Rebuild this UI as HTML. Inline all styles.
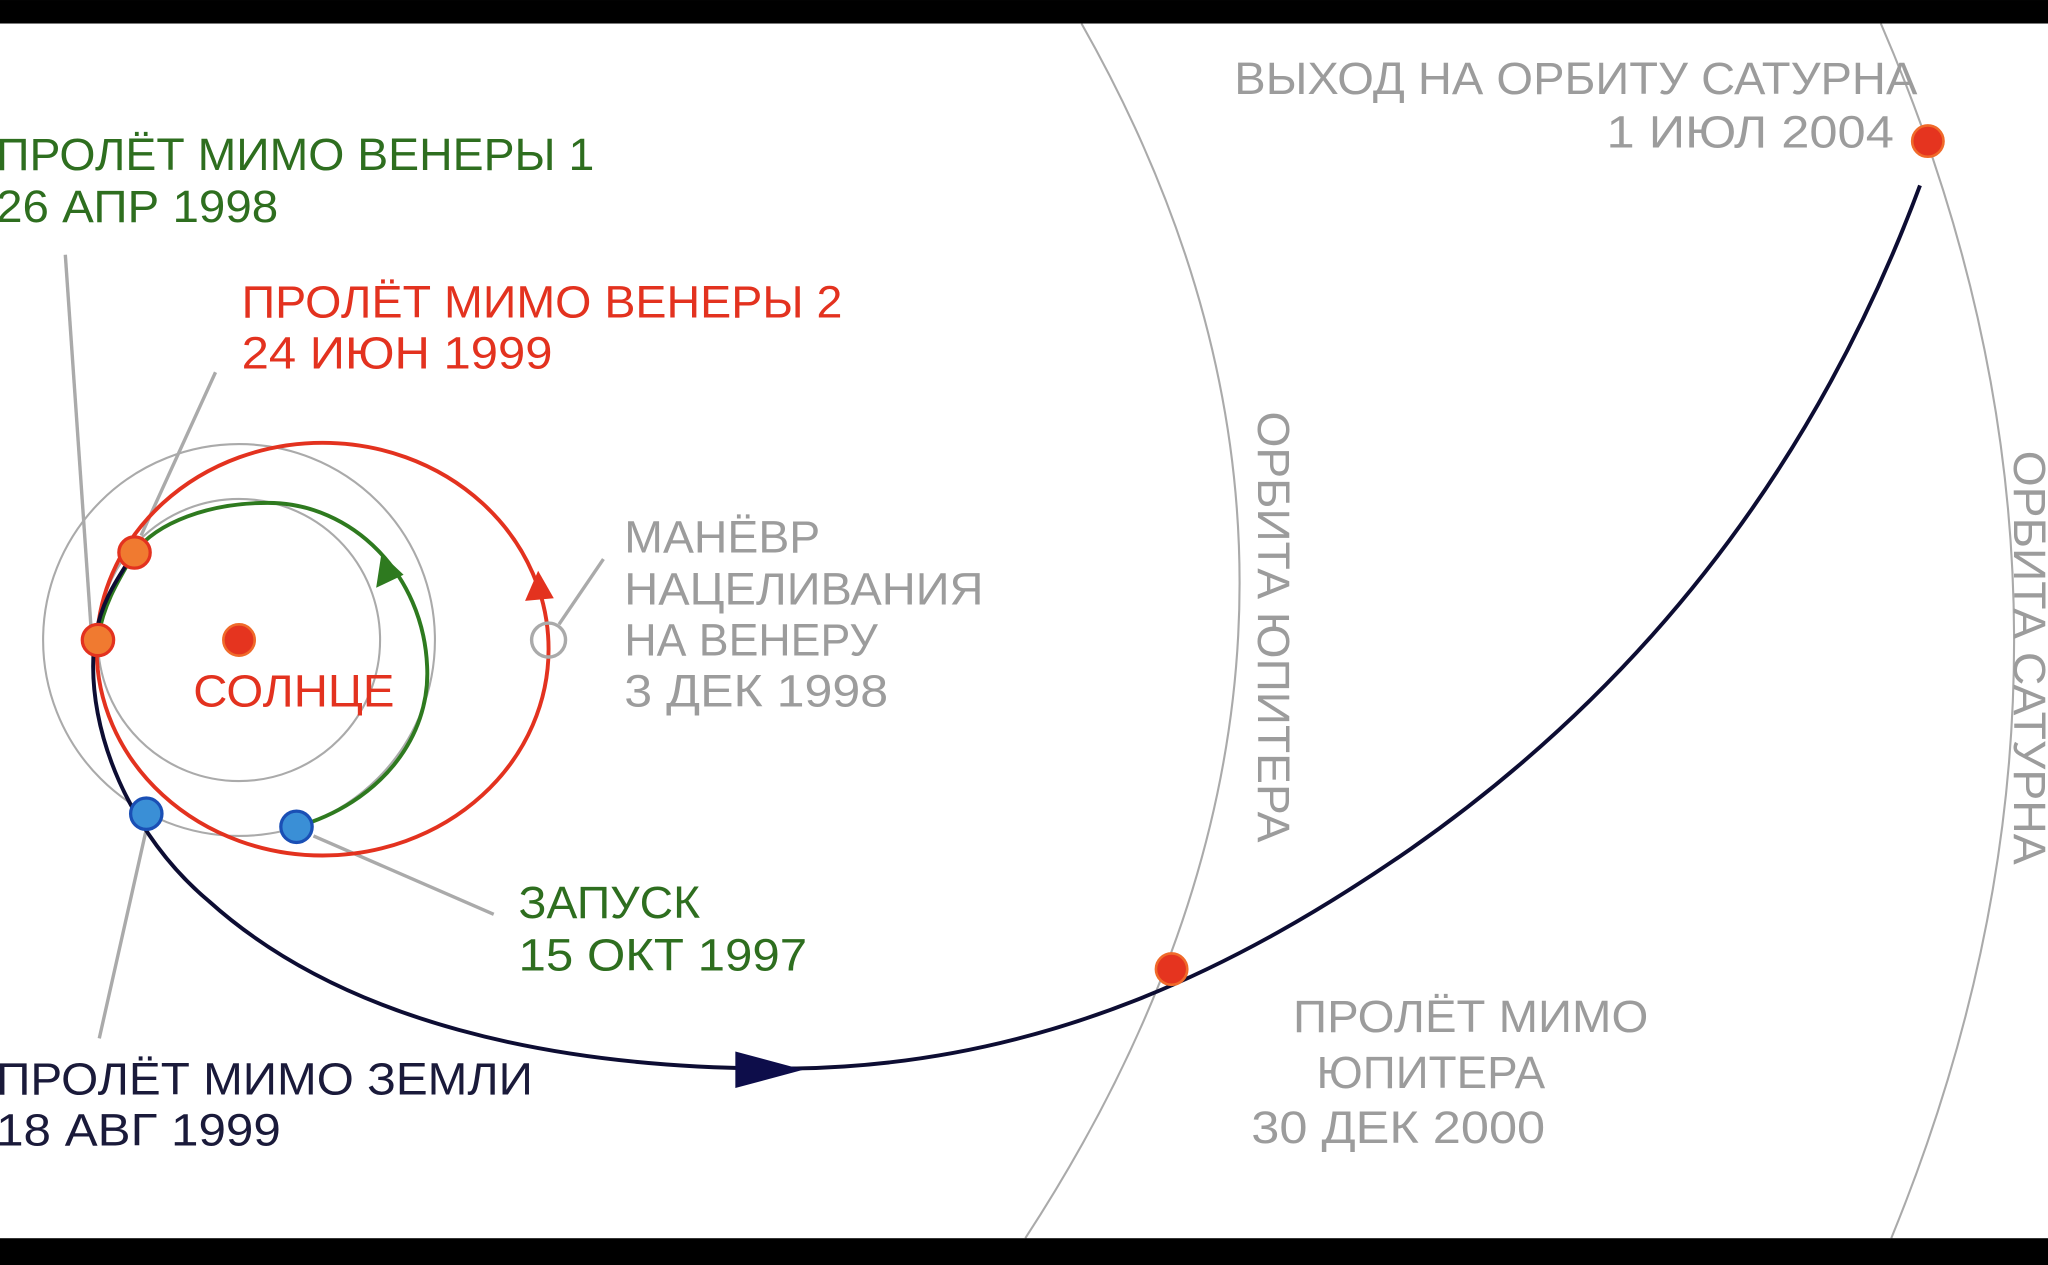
<!DOCTYPE html>
<html><head><meta charset="utf-8"><style>html,body{margin:0;padding:0;background:#fff}svg{display:block}text{font-family:"Liberation Sans",sans-serif;font-size:35px}</style></head>
<body>
<svg width="2048" height="1265" viewBox="0 0 1568 968.5" xmlns="http://www.w3.org/2000/svg">
<rect width="1568" height="968.5" fill="#fff"/>
<g fill="none" stroke="#aaa" stroke-width="1.6">
<circle cx="183" cy="490" r="150"/>
<circle cx="183" cy="490" r="108"/>
<path d="M828,18 Q1090,480 785,948"/>
<path d="M1440,18 Q1640,480 1448,948"/>
</g>
<g stroke="#aaa" stroke-width="2.6" fill="none">
<line x1="50" y1="195" x2="70" y2="485"/>
<line x1="165" y1="285" x2="108" y2="410"/>
<line x1="462" y1="428" x2="428" y2="478"/>
<line x1="240" y1="640" x2="378" y2="700"/>
<line x1="112" y1="635" x2="76" y2="795"/>
</g>
<ellipse cx="247" cy="497" rx="173" ry="158" fill="none" stroke="#e3321f" stroke-width="3"/>
<polygon points="412,437 402,460 424,458" fill="#e3321f"/>
<path d="M227,633 C290,615 330,565 327,510 C324,440 270,385 205,385 C160,385 120,400 103,423 C90,445 78,465 75,490" fill="none" stroke="#2e7a1f" stroke-width="3"/>
<polygon points="292,424 288,450 309,440" fill="#2e7a1f"/>
<path d="M103,423 C88,445 75,465 72,495 C66,560 100,640 160,690 C260,780 420,820 610,818 C800,815 950,740 1080,650 C1280,510 1400,330 1470,142" fill="none" stroke="#0d0d33" stroke-width="3"/>
<polygon points="563,805 563,833 615,819" fill="#0d0d4a"/>
<circle cx="420" cy="490" r="13" fill="none" stroke="#aaa" stroke-width="2.6"/>
<circle cx="183" cy="490" r="12" fill="#e5341f" stroke="#f06a2a" stroke-width="2"/>
<circle cx="75" cy="490" r="12" fill="#f07a30" stroke="#e3321f" stroke-width="2.5"/>
<circle cx="103" cy="423" r="12" fill="#f07a30" stroke="#e3321f" stroke-width="2.5"/>
<circle cx="112" cy="623" r="12" fill="#3a8fd6" stroke="#1a4fb5" stroke-width="2.5"/>
<circle cx="227" cy="633" r="12" fill="#3a8fd6" stroke="#1a4fb5" stroke-width="2.5"/>
<circle cx="897" cy="742" r="12" fill="#e5341f" stroke="#f06a2a" stroke-width="2"/>
<circle cx="1476" cy="108" r="12" fill="#e5341f" stroke="#f06a2a" stroke-width="2"/>
<g fill="#2e6e1f">
<text x="-3" y="130" textLength="458" lengthAdjust="spacingAndGlyphs">ПРОЛЁТ МИМО ВЕНЕРЫ 1</text>
<text x="-3" y="170" textLength="216" lengthAdjust="spacingAndGlyphs">26 АПР 1998</text>
<text x="397" y="703" textLength="139" lengthAdjust="spacingAndGlyphs">ЗАПУСК</text>
<text x="397" y="743" textLength="221" lengthAdjust="spacingAndGlyphs">15 ОКТ 1997</text>
</g>
<g fill="#e3321f">
<text x="185" y="243" textLength="460" lengthAdjust="spacingAndGlyphs">ПРОЛЁТ МИМО ВЕНЕРЫ 2</text>
<text x="185" y="282" textLength="238" lengthAdjust="spacingAndGlyphs">24 ИЮН 1999</text>
<text x="148" y="541" textLength="154" lengthAdjust="spacingAndGlyphs">СОЛНЦЕ</text>
</g>
<g fill="#1a1a3a">
<text x="-3" y="838" textLength="411" lengthAdjust="spacingAndGlyphs">ПРОЛЁТ МИМО ЗЕМЛИ</text>
<text x="-3" y="877" textLength="218" lengthAdjust="spacingAndGlyphs">18 АВГ 1999</text>
</g>
<g fill="#9c9c9c">
<text x="478" y="423" textLength="150" lengthAdjust="spacingAndGlyphs">МАНЁВР</text>
<text x="478" y="463" textLength="275" lengthAdjust="spacingAndGlyphs">НАЦЕЛИВАНИЯ</text>
<text x="478" y="502" textLength="194" lengthAdjust="spacingAndGlyphs">НА ВЕНЕРУ</text>
<text x="478" y="541" textLength="202" lengthAdjust="spacingAndGlyphs">3 ДЕК 1998</text>
<text x="945" y="72" textLength="523" lengthAdjust="spacingAndGlyphs">ВЫХОД НА ОРБИТУ САТУРНА</text>
<text x="1230" y="113" textLength="220" lengthAdjust="spacingAndGlyphs">1 ИЮЛ 2004</text>
<text x="990" y="790" textLength="272" lengthAdjust="spacingAndGlyphs">ПРОЛЁТ МИМО</text>
<text x="1008" y="833" textLength="175" lengthAdjust="spacingAndGlyphs">ЮПИТЕРА</text>
<text x="958" y="875" textLength="225" lengthAdjust="spacingAndGlyphs">30 ДЕК 2000</text>
<text transform="translate(963,315) rotate(90)" textLength="330" lengthAdjust="spacingAndGlyphs">ОРБИТА ЮПИТЕРА</text>
<text transform="translate(1542,345) rotate(90)" textLength="317" lengthAdjust="spacingAndGlyphs">ОРБИТА САТУРНА</text>
</g>
<rect x="0" y="0" width="1568" height="18" fill="#000"/>
<rect x="0" y="948" width="1568" height="21" fill="#000"/>
</svg>
</body></html>
